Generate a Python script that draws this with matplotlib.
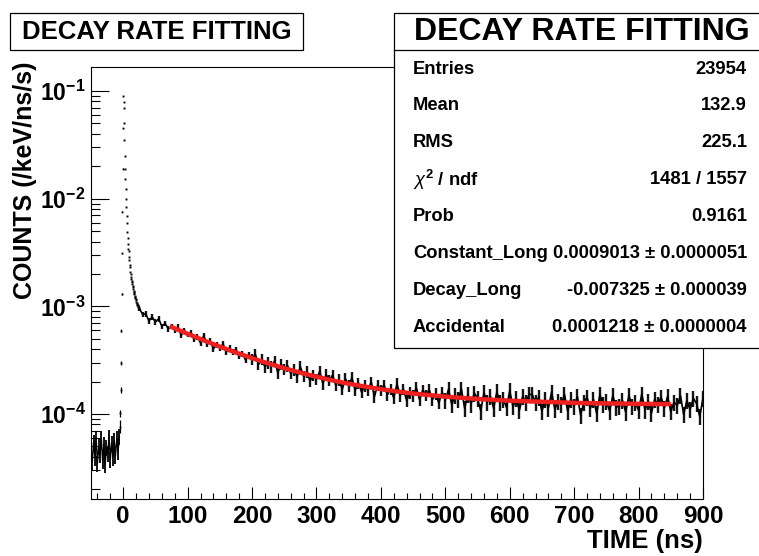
import numpy as np
import matplotlib
matplotlib.use("Agg")
import matplotlib.pyplot as plt
from matplotlib.ticker import NullFormatter
from matplotlib.patches import Rectangle
from matplotlib.lines import Line2D
from matplotlib.transforms import Affine2D

plt.rcParams['font.family'] = ['Liberation Sans', 'DejaVu Sans']
plt.rcParams['mathtext.fontset'] = 'custom'
plt.rcParams['mathtext.rm'] = 'Liberation Sans:bold'
plt.rcParams['mathtext.bf'] = 'Liberation Sans:bold'
plt.rcParams['mathtext.it'] = 'Liberation Sans:italic'

# ---------------- data (counts in /keV/ns/s) ----------------
# background before the pulse, 2 ns bins from -50 ns (units 1e-6)
pre_start, pre_step = -50.0, 2.0
pre_vals = [48, 36, 55, 40, 58, 35, 50, 42, 60, 37, 52, 34, 49, 43, 61,
            38, 54, 40, 57, 41, 59, 45, 62]
pre_err = 0.17   # typical relative error bar half-height

# rising edge bins (0.5 ns) with their error-bar extents
edge_t = [-5.0, -4.5, -4.0, -3.5, -3.0, -2.5, -2.0, -1.5, -1.0, -0.5]
edge_v = [7.6e-5, 1.02e-4, 1.68e-4, 2.97e-4, 5.95e-4, 1.30e-3, 3.1e-3, 7.6e-3, 1.9e-2, 4.5e-2]
edge_lo = [6.7e-5, 9.4e-5, 1.58e-4, 2.85e-4, 5.8e-4, 1.28e-3, 3.05e-3, 7.5e-3, 1.89e-2, 4.48e-2]
edge_hi = [8.8e-5, 1.10e-4, 1.79e-4, 3.10e-4, 6.1e-4, 1.33e-3, 3.15e-3, 7.7e-3, 1.91e-2, 4.52e-2]

# prompt spike, 0.5 ns bins from 0 ns
spike_start, spike_step = 0.0, 0.5
spike_vals = [0.090, 0.079, 0.070, 0.050, 0.035, 0.025, 0.019, 0.0152, 0.0124, 0.0100,
              0.0084, 0.0069, 0.0059, 0.0049, 0.0043, 0.0038, 0.0034, 0.0033, 0.0029, 0.0027,
              0.0024, 0.0023, 0.0021, 0.0020, 0.00188, 0.00180, 0.00172, 0.00168, 0.00162, 0.00155,
              0.00150, 0.00146, 0.00140, 0.00137, 0.00134, 0.00130, 0.00125, 0.00122, 0.00120, 0.00116,
              0.00114, 0.00110, 0.00108, 0.00106, 0.00104, 0.00102, 0.00100, 0.00098, 0.00097, 0.00095]

# long-lived tail, 5 ns bins from 25 ns (units 1e-6)
tail_start, tail_step = 25.0, 5.0
tail_early = [960, 843, 850, 733, 796, 717, 765, 653, 695, 620, 650, 605, 645, 539, 595,
              547, 574, 495, 521, 458, 534, 450, 476, 405, 437, 410, 447, 376, 413, 378,
              398, 345, 364, 317, 357]
tail_mid = [321, 361, 289, 322, 275, 300, 276, 311, 242, 289, 261, 282, 238, 258, 223,
            275, 225, 247, 203, 228,
            211, 249, 192, 232, 206, 230, 185, 209, 169, 213, 184, 218, 166, 195, 160,
            184, 167, 199, 145, 186, 166, 186, 151, 171, 141, 191, 148, 170, 133, 158,
            148, 176, 136, 167, 149, 168, 136, 155, 126, 160]
tail_late = [134, 170, 122, 149, 138, 171, 113, 152, 124, 157, 140, 107, 158, 128, 146,
             113, 161, 128, 138, 115, 165, 117, 140, 108, 145, 129, 152,
             152, 128, 143, 106, 137, 114, 160, 111, 132, 122, 153, 106, 137, 119,
             146, 98, 128, 143, 113, 137, 101, 152, 122, 131, 107, 148, 116,
             118, 134, 104, 149, 119, 128, 108, 154, 109, 132, 102, 137, 122, 144,
             114, 146, 105, 129, 120, 149, 99, 134, 110, 140, 125, 95, 141]
# typical relative error bar half-heights in each part of the tail
tail_err_early, tail_err_mid, tail_err_late = 0.06, 0.12, 0.17

# fitted curve (units 1e-6)
fit_t = [72, 100, 125, 150, 175, 200, 225, 250, 275, 300, 325, 350, 375, 400, 425,
         450, 475, 500, 550, 600, 650, 700, 750, 800, 850]
fit_v = [654, 555, 483, 422, 372, 330, 295, 266, 242, 222, 205, 191, 180, 170, 162,
         155, 150, 145, 138, 133, 130, 127, 125.5, 124.4, 123.6]

x_major = [0, 100, 200, 300, 400, 500, 600, 700, 800, 900]
y_major = [1e-4, 1e-3, 1e-2, 1e-1]
y_exps = [-4, -3, -2, -1]

title = "DECAY RATE FITTING"
stats = [("Entries", "23954"), ("Mean", "132.9"), ("RMS", "225.1"),
         (r"$\chi^{2}$ / ndf", "1481 / 1557"), ("Prob", "0.9161"),
         ("Constant_Long", "0.0009013 \u00b1 0.0000051"),
         ("Decay_Long", "-0.007325 \u00b1 0.000039"),
         ("Accidental", "0.0001218 \u00b1 0.0000004")]

# ---------------- figure ----------------
W, H = 759, 556
fig = plt.figure(figsize=(W / 100, H / 100), dpi=100)
fig.patch.set_facecolor('white')
px = Affine2D().scale(1 / W, -1 / H).translate(0, 1) + fig.transFigure

L, R, T, B = 91, 703, 67, 499
ax = fig.add_axes([L / W, 1 - B / H, (R - L) / W, (B - T) / H])
ax.set_yscale('log')

pre_v = np.array(pre_vals) * 1e-6
pre_t = pre_start + pre_step * np.arange(len(pre_v))
spike_v = np.array(spike_vals)
spike_t = spike_start + spike_step * np.arange(len(spike_v))
tail_v = np.array(tail_early + tail_mid + tail_late) * 1e-6
tail_t = tail_start + tail_step * np.arange(len(tail_v))
tail_e = np.array([tail_err_early] * len(tail_early) + [tail_err_mid] * len(tail_mid)
                  + [tail_err_late] * len(tail_late))

# background
ax.vlines(pre_t, pre_v * (1 - pre_err), pre_v * (1 + pre_err), color='black', lw=1.3)
ax.plot(pre_t, pre_v, color='black', lw=1.0)
# rising edge
ax.vlines(edge_t, edge_lo, edge_hi, color='black', lw=0.9)
ax.plot(edge_t, edge_v, ls='none', marker='s', ms=1.3, mew=0, color='black')
# spike
ax.plot(spike_t, spike_v, ls='none', marker='s', ms=1.4, mew=0, color='black')
# tail
ax.vlines(tail_t, tail_v * (1 - tail_e), tail_v * (1 + tail_e), color='#151515', lw=1.7)
ax.plot(tail_t, tail_v, color='black', lw=1.2)
# fit
ax.plot(fit_t, np.array(fit_v) * 1e-6, color='#ee2020', lw=3.2, solid_capstyle='butt')

ax.set_xlim(-50, 900)
ax.set_ylim(1.626e-5, 0.167)

ax.set_xticks(x_major, [str(v) for v in x_major], fontsize=17.5, fontweight='bold')
ax.set_xticks([v for v in range(-40, 900, 20) if v % 100 != 0], minor=True)
ax.set_yticks(y_major, [r'$\mathbf{10^{%d}}$' % e for e in y_exps], fontsize=16.5)
minors = [m * 10.0 ** e for e in range(-5, 0) for m in range(2, 10)]
minors = [v for v in minors if 1.626e-5 < v < 0.167]
ax.set_yticks(minors, minor=True)
ax.yaxis.set_minor_formatter(NullFormatter())

ax.tick_params(axis='y', which='major', direction='in', length=13, width=0.8,
               left=True, right=False, pad=4)
ax.tick_params(axis='y', which='minor', direction='in', length=6.5, width=0.8,
               left=True, right=False)
ax.tick_params(axis='x', which='major', direction='in', length=9, width=0.8,
               bottom=True, top=False, pad=4.5)
ax.tick_params(axis='x', which='minor', direction='in', length=4.5, width=0.8,
               bottom=True, top=False)
for s in ax.spines.values():
    s.set_linewidth(0.8)

# axis titles
fig.text(25 / W, 1 - 180 / H, "COUNTS (/keV/ns/s)", rotation=90, ha='center', va='center',
         fontsize=18, fontweight='bold')
fig.text(R / W, 1 - 541 / H, "TIME (ns)", ha='right', va='center',
         fontsize=18.5, fontweight='bold')

# title box (top-left)
fig.add_artist(Rectangle((10, 50), 293, -37, transform=px, facecolor='white',
                         edgecolor='black', lw=0.9, zorder=5))
fig.text(157 / W, 1 - 32 / H, title, ha='center', va='center', fontsize=18.5,
         fontweight='bold', zorder=6)

# stats box (top-right)
fig.add_artist(Rectangle((394, 348), 370, -335, transform=px, facecolor='white',
                         edgecolor='black', lw=0.9, zorder=5))
fig.add_artist(Line2D([394, 764], [50, 50], transform=px, color='black', lw=0.9, zorder=6))
fig.text(582 / W, 1 - 32 / H, title, ha='center', va='center', fontsize=23,
         fontweight='bold', zorder=6)
for i, (name, val) in enumerate(stats):
    yc = 69 + 36.9 * i
    fig.text(413 / W, 1 - yc / H, name, ha='left', va='center', fontsize=13.2,
             fontweight='bold', zorder=6)
    fig.text(747 / W, 1 - yc / H, val, ha='right', va='center', fontsize=13.2,
             fontweight='bold', zorder=6)

fig.savefig('out.png', dpi=100)
